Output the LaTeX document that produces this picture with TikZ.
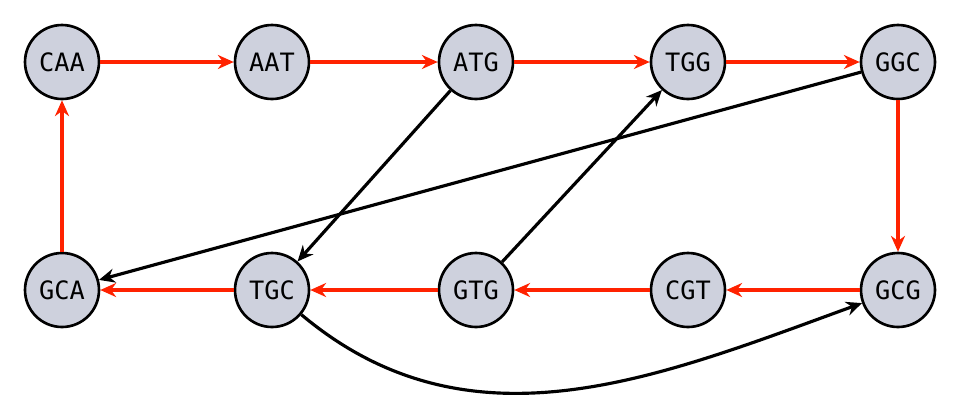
\documentclass[tikz,border=0pt]{standalone}
\usepackage{fontspec}
\setmainfont{DejaVu Sans Mono}
\usetikzlibrary{arrows.meta}
\definecolor{nfill}{HTML}{CED1DD}
\definecolor{ered}{HTML}{FF2200}
\begin{document}
\begin{tikzpicture}[x=0.02cm,y=-0.02cm,
  nd/.style={circle,draw=black,line width=1.5pt,fill=nfill,minimum size=1.48cm,inner sep=0pt,font=\Large},
  re/.style={draw=ered,line width=1.8pt,-{Stealth[length=9pt,width=8pt]}},
  be/.style={draw=black,line width=1.8pt,-{Stealth[length=9pt,width=8pt]}}]
\useasboundingbox (0,0) rectangle (960,400);
\node[nd] (CAA) at (62,62) {CAA};
\node[nd] (AAT) at (272,62) {AAT};
\node[nd] (ATG) at (476,62) {ATG};
\node[nd] (TGG) at (688,62) {TGG};
\node[nd] (GGC) at (898,62) {GGC};
\node[nd] (GCA) at (62,290) {GCA};
\node[nd] (TGC) at (272,290) {TGC};
\node[nd] (GTG) at (476,290) {GTG};
\node[nd] (CGT) at (688,290) {CGT};
\node[nd] (GCG) at (898,290) {GCG};
\draw[re] (CAA) -- (AAT);
\draw[re] (AAT) -- (ATG);
\draw[re] (ATG) -- (TGG);
\draw[re] (TGG) -- (GGC);
\draw[re] (GGC) -- (GCG);
\draw[re] (GCG) -- (CGT);
\draw[re] (CGT) -- (GTG);
\draw[re] (GTG) -- (TGC);
\draw[re] (TGC) -- (GCA);
\draw[re] (GCA) -- (CAA);
\draw[be] (ATG) -- (TGC);
\draw[be] (GTG) -- (TGG);
\draw[be] (GGC) -- (GCA);
\draw[be] (TGC) to[out=-40,in=200] (GCG);
\end{tikzpicture}
\end{document}
